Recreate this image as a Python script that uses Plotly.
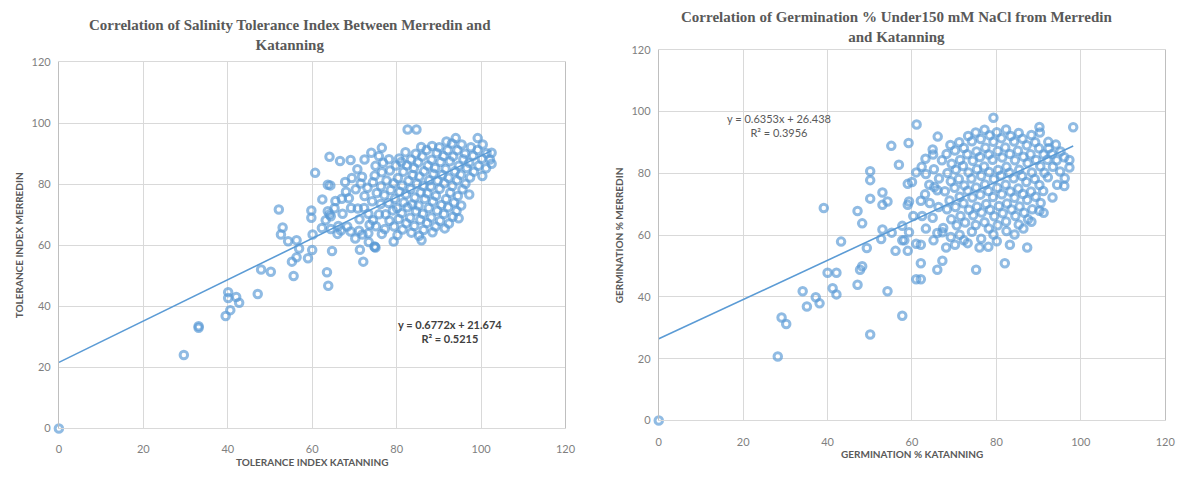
import plotly.graph_objects as go

W, H = 1192, 477

# ---------------- Data ----------------
# Left chart: Salinity Tolerance Index, Katanning (x) vs Merredin (y)
sti_points = [
    (0, 0), (29.6, 24.1), (33.1, 33.5), (33.1, 33.0), (39.5, 36.9), (40.6, 38.8), (40.1, 44.7),
    (40.1, 42.8), (42.0, 43.1), (42.7, 41.2), (47.1, 44.1), (47.9, 52.1), (50.2, 51.4),
    (52.1, 71.8), (53.0, 65.9), (52.6, 63.6), (54.3, 61.4), (56.3, 61.7), (56.9, 59.0), (55.2, 54.7),
    (56.3, 56.1), (55.6, 50.0), (59.0, 55.8), (60.0, 58.5), (60.1, 63.6), (59.8, 69.1), (59.8, 71.5),
    (60.7, 83.8), (62.3, 65.7), (63.7, 71.2), (64.1, 70.2), (63.7, 79.9), (64.3, 79.7), (64.1, 89.1),
    (64.7, 58.2), (63.5, 51.2), (63.8, 46.8), (64.4, 69.6), (64.4, 65.4), (66.2, 66.4), (66.0, 63.8),
    (66.8, 64.9), (66.6, 87.7), (69.1, 88.0), (65.5, 74.6), (67.0, 75.3), (68.7, 75.5), (67.8, 80.8),
    (68.0, 77.6), (69.1, 64.6), (71.1, 64.8), (72.1, 54.7), (71.9, 63.6), (73.3, 64.0), (73.4, 61.1),
    (74.8, 59.7), (75.0, 59.3), (70.7, 85.0), (71.5, 80.3), (72.3, 72.3), (74.4, 68.3), (75.8, 70.2),
    (76.5, 63.8), (74.0, 90.4), (76.5, 92.0), (75.8, 89.3), (75.0, 86.1), (74.8, 82.9), (76.5, 84.0),
    (82.6, 98.0), (84.7, 98.0), (99.2, 95.2), (94.0, 95.2), (100.3, 82.8), (97.2, 76.7), (94.7, 68.9),
    (85.9, 61.7), (79.3, 61.3), (74.8, 59.5), (102.5, 90.4), (102.5, 86.8),
    (62.4, 75.1), (63.2, 68.3), (65.3, 72.2), (67.2, 70.4), (68.3, 66.2), (69.2, 72.3), (69.4, 82.1),
    (70.2, 62.3), (71.3, 58.6), (72.4, 88.2),
    (70.3, 78.4), (70.8, 72.1), (71.2, 68.6), (72.4, 76.2), (71.8, 82.5), (73.1, 78.9), (73.3, 70.4),
    (73.6, 66.8), (74.2, 74.5), (74.4, 80.7), (75.3, 77.2), (75.1, 66.3), (76.2, 73.6), (76.3, 79.4),
    (76.8, 87.1), (77.4, 70.2), (77.1, 76.5), (77.6, 81.3), (77.2, 65.4), (78.3, 68.1), (78.1, 73.9),
    (78.6, 78.2), (78.4, 84.6), (78.2, 88.3), (79.4, 66.2), (79.1, 71.5), (79.6, 75.3), (79.3, 80.4),
    (79.8, 86.2), (80.2, 63.4), (80.5, 68.7), (80.1, 72.3), (80.7, 77.6), (80.3, 82.1), (80.6, 88.5),
    (81.4, 65.2), (81.2, 70.6), (81.7, 74.1), (81.3, 79.7), (81.6, 84.2), (81.1, 87.4), (82.3, 67.3),
    (82.6, 72.5), (82.2, 76.8), (82.8, 81.2), (82.4, 86.3), (82.1, 90.6), (83.5, 64.2), (83.2, 69.1),
    (83.7, 73.4), (83.3, 78.5), (83.8, 83.1), (83.4, 88.2), (84.2, 66.4), (84.6, 71.2), (84.3, 75.7),
    (84.8, 80.2), (84.1, 85.4), (84.5, 90.1), (85.3, 63.2), (85.6, 68.4), (85.2, 73.1), (85.7, 77.4),
    (85.4, 82.6), (85.1, 87.2), (85.8, 92.3), (86.4, 65.1), (86.2, 70.4), (86.7, 75.2), (86.3, 79.6),
    (86.5, 84.3), (86.1, 89.2), (87.2, 67.4), (87.6, 72.3), (87.3, 77.1), (87.7, 81.4), (87.4, 86.2),
    (87.1, 91.3), (88.5, 64.3), (88.2, 69.2), (88.6, 74.4), (88.1, 79.3), (88.7, 83.5), (88.3, 88.1),
    (88.4, 92.6), (89.2, 66.2), (89.6, 71.4), (89.3, 76.3), (89.7, 81.2), (89.1, 85.4), (89.5, 90.3),
    (90.3, 68.1), (90.6, 73.3), (90.2, 78.6), (90.8, 83.2), (90.4, 87.4), (90.1, 92.2), (91.4, 65.6),
    (91.2, 70.3), (91.7, 75.2), (91.3, 80.4), (91.6, 85.1), (91.1, 89.3), (91.8, 94.1), (92.4, 67.2),
    (92.2, 72.5), (92.7, 77.3), (92.3, 82.2), (92.6, 87.6), (92.1, 91.2), (93.3, 69.4), (93.6, 74.1),
    (93.2, 79.5), (93.8, 84.3), (93.4, 89.2), (93.1, 93.4), (94.2, 71.3), (94.5, 76.2), (94.3, 81.4),
    (94.7, 86.1), (94.4, 91.2), (95.3, 73.1), (95.6, 78.4), (95.2, 83.2), (95.8, 88.3), (95.4, 93.1),
    (96.3, 80.2), (96.6, 85.4), (96.2, 90.1), (97.4, 82.3), (97.2, 87.1), (97.6, 92.2), (98.3, 84.2),
    (98.1, 89.4), (99.4, 86.1), (99.2, 91.3), (100.2, 88.4), (100.4, 93.1), (101.2, 85.3),
    (101.3, 90.2), (102.1, 88.2),
]

# Right chart: Germination % under 150 mM NaCl, Katanning (x) vs Merredin (y)
germ_points = [
    (0, 0), (28.2, 20.7), (29.1, 33.3), (30.2, 31.2), (34.1, 41.8), (35.1, 36.9), (37.2, 39.9),
    (38.1, 37.9), (39.1, 68.8), (40.0, 47.8), (42.1, 47.8), (41.2, 42.8), (42.1, 40.8), (43.2, 57.9),
    (47.1, 43.9), (47.1, 67.8), (47.7, 48.8), (48.2, 49.9), (48.2, 63.8), (49.3, 55.8), (50.1, 80.7),
    (50.1, 77.8), (50.1, 71.8), (50.1, 27.8), (53.0, 73.8), (53.0, 69.8), (54.2, 70.9), (52.7, 58.7),
    (53.0, 61.8), (55.2, 60.8), (56.1, 54.9), (54.2, 41.8), (55.1, 88.9), (56.9, 82.8), (57.7, 63.0),
    (57.7, 58.3), (57.7, 33.9),
    (61.1, 95.8), (59.2, 89.8), (66.1, 91.9), (79.3, 98.0), (98.2, 94.9), (90.2, 95.0), (96.1, 75.9),
    (97.3, 81.9), (95.1, 80.6), (92.2, 78.7), (90.2, 67.9), (87.3, 56.0), (82.0, 50.9), (83.2, 56.9),
    (75.2, 48.8), (80.1, 58.0), (66.0, 48.8), (67.2, 51.7), (62.1, 50.9), (61.0, 45.7), (62.1, 45.7),
    (59.0, 54.9), (61.0, 57.2), (62.1, 56.9), (68.1, 56.0), (70.2, 56.9), (72.3, 58.3), (76.0, 56.0),
    (78.1, 56.2), (66.0, 60.7), (67.2, 60.9), (58.2, 58.3), (59.3, 60.9), (59.0, 69.8), (59.3, 70.9),
    (62.1, 71.1), (59.0, 76.6), (60.0, 77.2), (61.0, 80.3), (63.2, 84.7), (64.9, 87.7), (65.0, 86.1),
    (63.3, 79.8), (64.1, 76.3), (65.3, 75.6), (66.0, 74.5), (64.9, 65.6),
    (62.3, 82.1), (63.1, 73.2), (64.2, 70.4), (65.2, 81.3), (66.3, 69.1), (67.1, 84.2), (66.4, 78.3),
    (67.4, 62.3), (62.4, 66.2), (63.3, 62.1), (65.1, 58.3), (60.3, 66.2), (69.2, 59.4), (71.3, 60.1),
    (73.2, 57.4), (76.4, 58.8), (79.3, 60.2), (82.4, 61.3), (84.3, 60.2), (86.4, 62.1), (88.3, 64.3),
    (91.2, 67.2), (93.3, 72.2), (94.4, 76.3), (96.2, 78.4), (97.3, 84.3),
    (68.2, 86.3), (68.4, 80.1), (67.8, 74.2), (68.3, 68.4), (69.1, 89.2), (69.4, 83.1), (69.2, 77.4),
    (68.9, 71.2), (69.3, 65.1), (70.2, 87.4), (70.4, 81.2), (70.1, 75.3), (70.3, 69.1), (70.6, 63.2),
    (71.2, 90.1), (71.4, 84.3), (71.1, 78.2), (71.3, 72.4), (71.5, 66.2), (72.3, 88.2), (72.1, 82.4),
    (72.4, 76.1), (72.2, 70.3), (72.6, 64.1), (73.3, 92.1), (73.1, 86.2), (73.4, 80.3), (73.2, 74.4),
    (73.5, 68.2), (74.2, 90.4), (74.4, 84.1), (74.1, 78.3), (74.3, 72.2), (74.5, 66.4), (74.2, 61.1),
    (75.1, 93.2), (75.3, 87.1), (75.4, 81.3), (75.2, 75.4), (75.4, 69.2), (75.1, 63.3), (76.3, 91.1),
    (76.1, 85.3), (76.4, 79.2), (76.2, 73.1), (76.5, 67.3), (77.2, 94.1), (77.4, 88.3), (77.1, 82.2),
    (77.3, 76.4), (77.6, 70.1), (77.2, 64.2), (78.4, 92.3), (78.2, 86.1), (78.3, 80.4), (78.1, 74.3),
    (78.5, 68.2), (78.2, 62.1), (79.3, 90.2), (79.1, 84.4), (79.4, 78.1), (79.2, 72.3), (79.5, 66.1),
    (80.1, 93.3), (80.3, 87.2), (80.4, 81.1), (80.2, 75.3), (80.6, 69.4), (80.3, 63.2), (81.2, 91.4),
    (81.4, 85.1), (81.1, 79.3), (81.3, 73.2), (81.5, 67.1), (82.3, 94.2), (82.1, 88.4), (82.4, 82.1),
    (82.2, 76.3), (82.5, 70.2), (82.3, 64.4), (83.4, 92.1), (83.2, 86.3), (83.1, 80.2), (83.3, 74.1),
    (83.6, 68.3), (84.2, 90.3), (84.4, 84.2), (84.1, 78.4), (84.3, 72.1), (84.5, 66.2), (85.3, 93.1),
    (85.1, 87.3), (85.4, 81.2), (85.2, 75.1), (85.5, 69.3), (85.3, 63.4), (86.2, 91.2), (86.4, 85.4),
    (86.1, 79.1), (86.3, 73.3), (86.6, 67.2), (87.2, 89.1), (87.4, 83.3), (87.1, 77.2), (87.3, 71.4),
    (87.5, 65.1), (88.3, 92.4), (88.1, 86.2), (88.4, 80.3), (88.2, 74.1), (88.5, 68.4), (89.2, 90.1),
    (89.4, 84.3), (89.1, 78.2), (89.3, 72.4), (90.3, 93.2), (90.1, 88.1), (90.4, 82.3), (90.2, 76.2),
    (90.5, 70.4), (91.2, 86.1), (91.4, 80.2), (91.1, 74.3), (92.3, 90.2), (92.1, 84.4), (92.4, 88.1),
    (93.2, 86.3), (93.4, 82.1), (94.1, 89.3), (94.3, 84.2), (95.2, 87.1), (96.1, 85.2),
]

# Trendline equations shown on the chart
sti_slope, sti_intercept, sti_r2 = 0.6772, 21.674, 0.5215
germ_slope, germ_intercept, germ_r2 = 0.6353, 26.438, 0.3956

titles = ["Correlation of Salinity Tolerance Index Between Merredin and<br>Katanning",
          "Correlation of Germination % Under150 mM NaCl from Merredin<br>and Katanning"]
x_titles = ["TOLERANCE INDEX KATANNING", "GERMINATION % KATANNING"]
y_titles = ["TOLERANCE INDEX MERREDIN", "GERMINATION % MERREDIN"]
tick_vals = [0, 20, 40, 60, 80, 100, 120]

# ---------------- Layout helpers (pixels -> paper) ----------------
def px(x):
    return x / W

def py(y):
    return 1 - y / H

left_box = (56.5, 568.7, 57.0, 433.3)     # x0, x1, ytop, ybottom
right_box = (663.0, 1175.0, 44.0, 425.0)

BLUE = "#5B9BD5"
MARK = "rgba(91,155,213,0.68)"
GRID = "#D9D9D9"

fig = go.Figure()

def add_panel(points, slope, intercept, xa, ya):
    xs = [p[0] for p in points]
    ys = [p[1] for p in points]
    fig.add_trace(go.Scatter(
        x=xs, y=ys, mode="markers", xaxis=xa, yaxis=ya, cliponaxis=False,
        marker=dict(symbol="circle-open", size=7.5, color=MARK, line=dict(width=3, color=MARK)),
        showlegend=False, hoverinfo="x+y"))
    xmax = max(xs)
    fig.add_trace(go.Scatter(
        x=[0, xmax], y=[intercept, intercept + slope * xmax], mode="lines",
        xaxis=xa, yaxis=ya, line=dict(color=BLUE, width=1.6), showlegend=False,
        hoverinfo="skip"))

add_panel(sti_points, sti_slope, sti_intercept, "x", "y")
add_panel(germ_points, germ_slope, germ_intercept, "x2", "y2")

def axis_common():
    return dict(range=[0, 120], tickvals=tick_vals, showgrid=True, gridcolor=GRID, gridwidth=1,
                zeroline=False, showline=True, mirror=True, linecolor=GRID, linewidth=1,
                ticks="", tickfont=dict(family="Lato, Open Sans, sans-serif", size=11, color="#7F7F7F"),
                fixedrange=True)

xa1 = axis_common(); xa1.update(domain=[px(left_box[0]), px(left_box[1])], anchor="y", ticklabelstandoff=10)
ya1 = axis_common(); ya1.update(domain=[py(left_box[3]), py(left_box[2])], anchor="x", linecolor="#BFBFBF", ticklabelstandoff=5)
xa2 = axis_common(); xa2.update(domain=[px(right_box[0]), px(right_box[1])], anchor="y2", ticklabelstandoff=11)
ya2 = axis_common(); ya2.update(domain=[py(right_box[3]), py(right_box[2])], anchor="x2", linecolor="#BFBFBF", ticklabelstandoff=5)

fig.update_layout(
    width=W, height=H, margin=dict(l=0, r=0, t=0, b=0),
    paper_bgcolor="white", plot_bgcolor="white",
    xaxis=xa1, yaxis=ya1, xaxis2=xa2, yaxis2=ya2,
)

def note(text, x, y, font, angle=0):
    return dict(text=text, x=px(x), y=py(y), xref="paper", yref="paper", showarrow=False,
                font=font, align="center", xanchor="center", yanchor="middle", textangle=angle)

ann = []
title_font = dict(family="Liberation Serif, Times New Roman, serif", size=15, color="#595959")
ann.append(note("<b>" + titles[0].replace("<br>", "</b><br><b>") + "</b>", 290, 29, title_font))
ann.append(note("<b>" + titles[1].replace("<br>", "</b><br><b>") + "</b>", 903, 21, title_font))

axt_font = dict(family="Lato, Open Sans, sans-serif", size=10, color="#595959")
ann.append(note("<b>%s</b>" % x_titles[0], (left_box[0] + left_box[1]) / 2, 468, axt_font))
ann.append(note("<b>%s</b>" % x_titles[1], (right_box[0] + right_box[1]) / 2, 460, axt_font))
ann.append(note("<b>%s</b>" % y_titles[0], 17, (left_box[2] + left_box[3]) / 2, axt_font, -90))
ann.append(note("<b>%s</b>" % y_titles[1], 623, (right_box[2] + right_box[3]) / 2, axt_font, -90))

eq_font_b = dict(family="Lato, Open Sans, sans-serif", size=11, color="#404040")
ann.append(note("<b>y = %.4fx + %.3f</b><br><b>R² = %.4f</b>" % (sti_slope, sti_intercept, sti_r2),
                452, 334, eq_font_b))
eq_font = dict(family="Lato, Open Sans, sans-serif", size=11, color="#595959")
ann.append(note("y = %.4fx + %.3f<br>R² = %.4f" % (germ_slope, germ_intercept, germ_r2),
                785, 122, eq_font))

fig.update_layout(annotations=ann)
fig.write_html("out.html")
